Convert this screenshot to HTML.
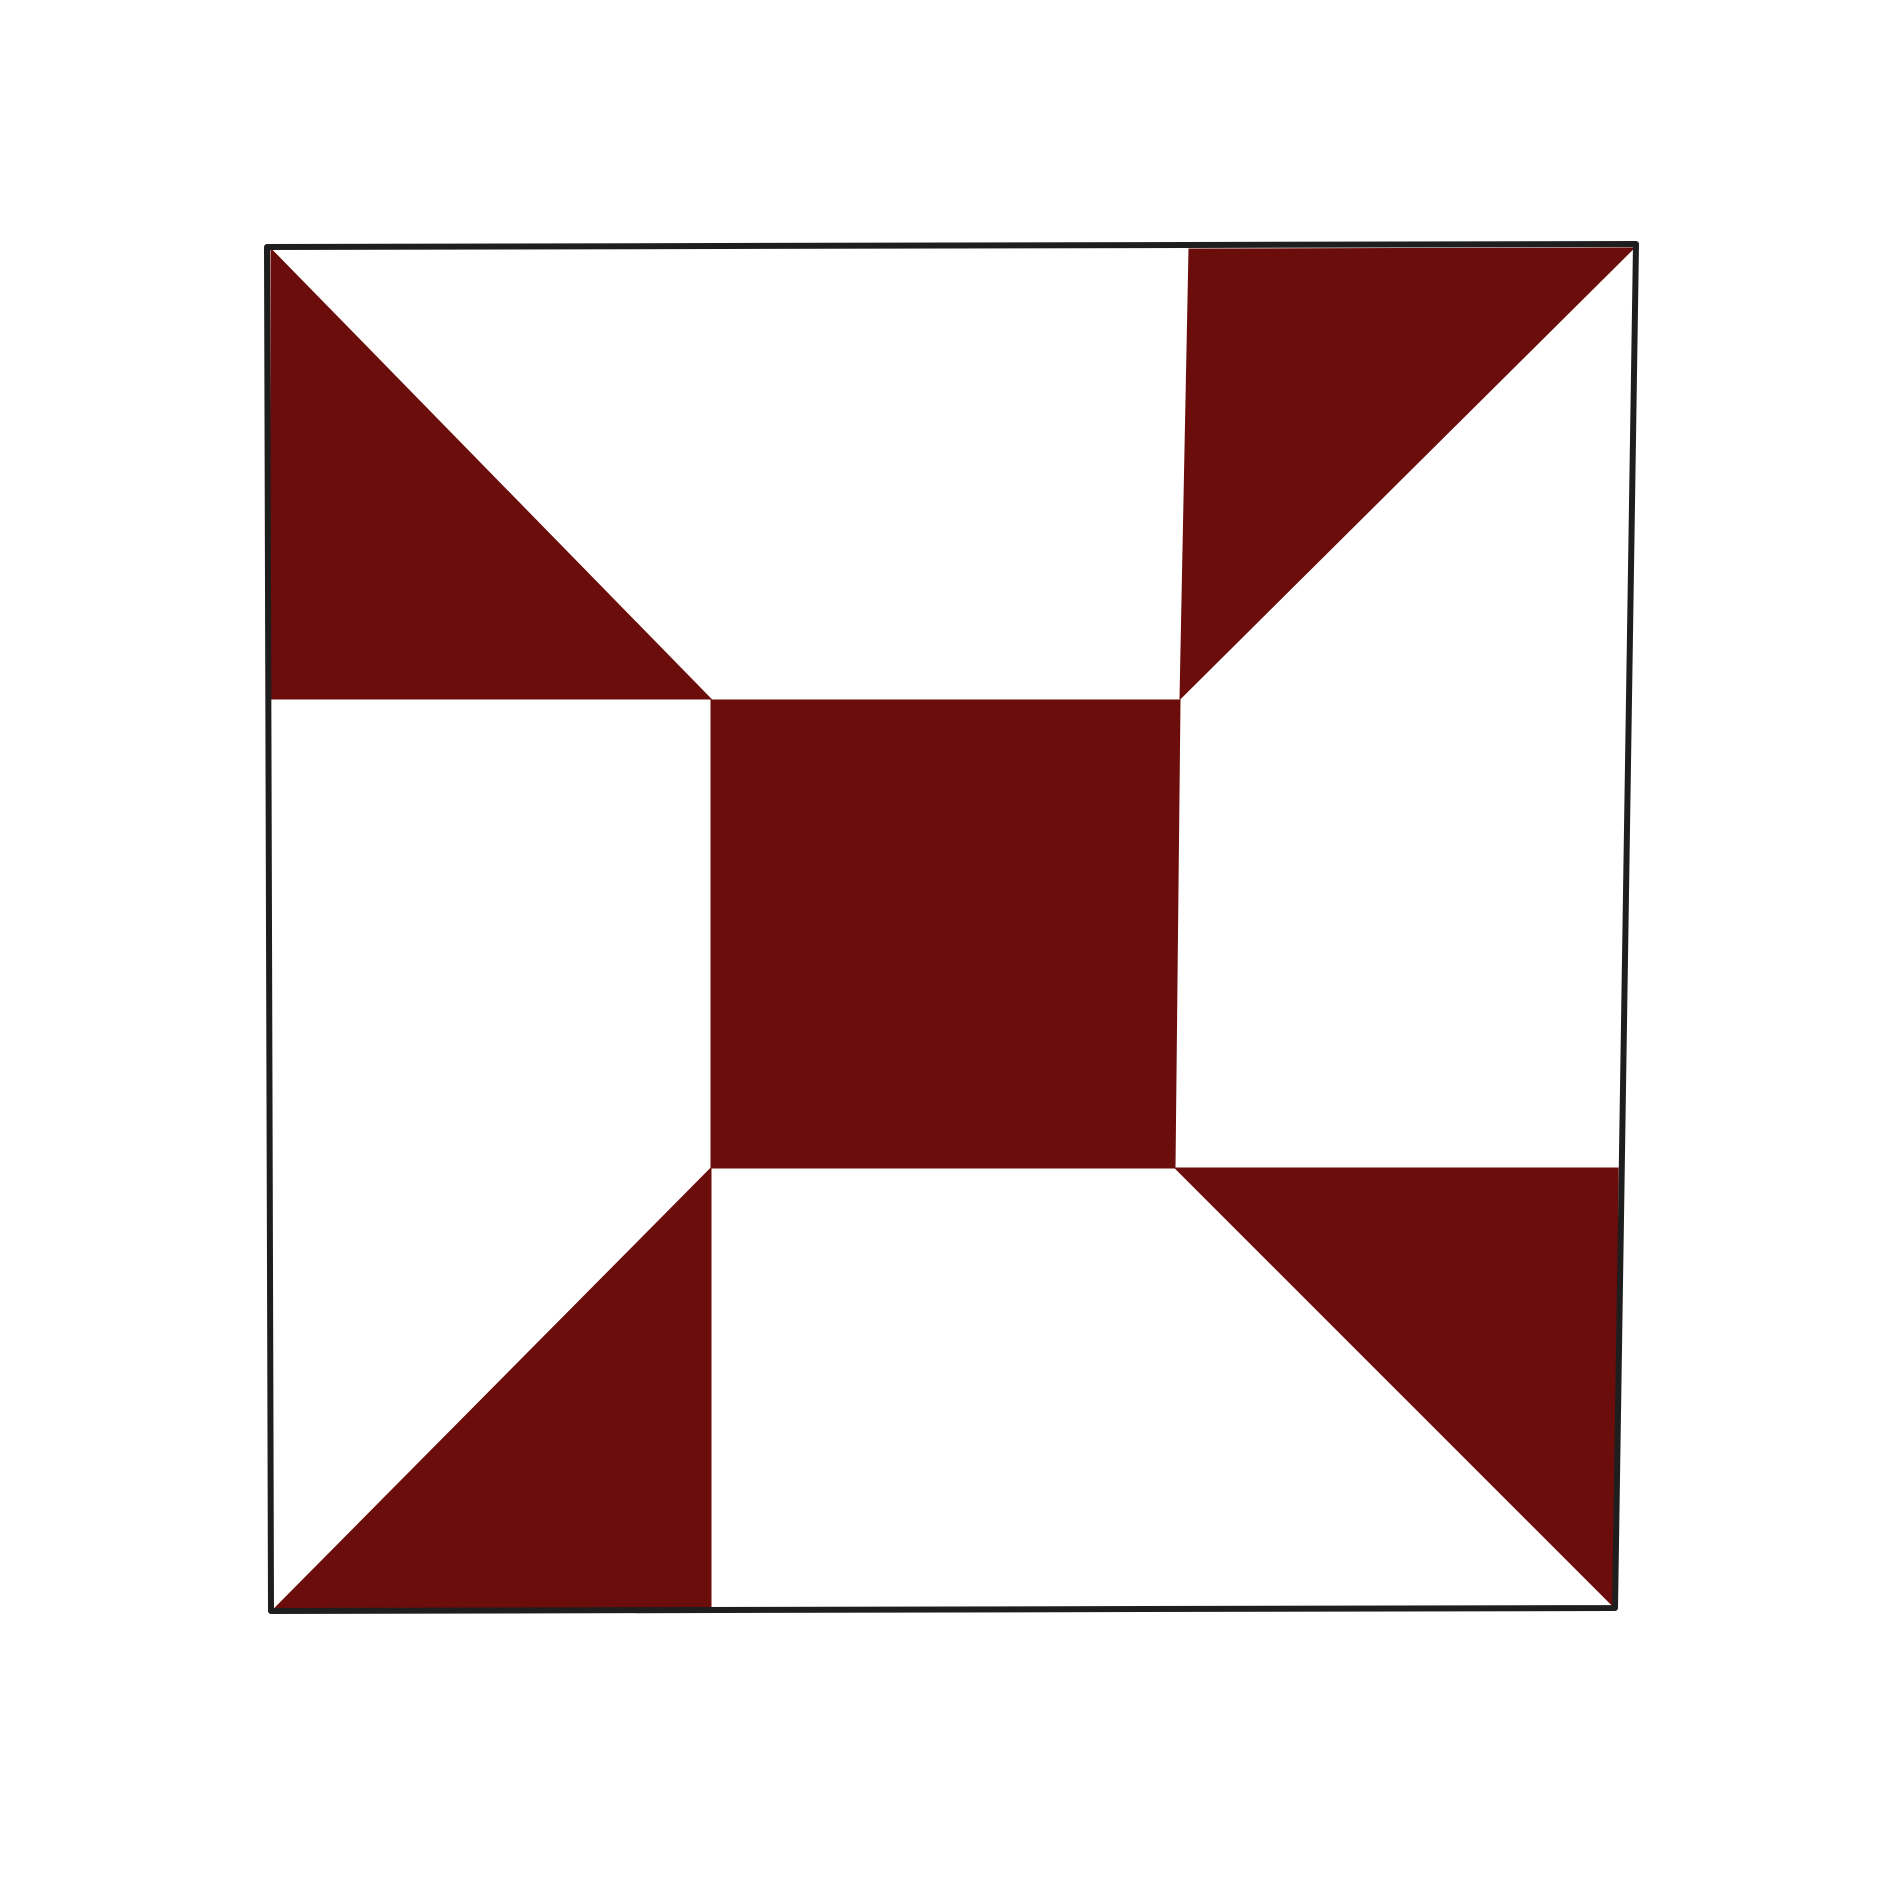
<!DOCTYPE html>
<html>
<head>
<meta charset="utf-8">
<style>
html,body{margin:0;padding:0;background:#fff;}
svg{display:block;}
</style>
</head>
<body>
<svg width="1896" height="1888" viewBox="0 0 1896 1888">
  <rect x="0" y="0" width="1896" height="1888" fill="#fff"/>
  <g fill="#6b0d0b" stroke="#6b0d0b" stroke-width="1">
    <polygon points="271,249 711,699 271,699"/>
    <polygon points="1189,249 1634,248 1180,699"/>
    <polygon points="711,700 1180,700 1175,1168 711,1168"/>
    <polygon points="1175,1168 1618,1168 1615,1608"/>
    <polygon points="711,1168 711,1608 274,1609"/>
  </g>
  <polygon points="267,247 1636,244 1615,1608 271,1611" fill="none" stroke="#1e1e1e" stroke-width="6" stroke-linejoin="round"/>
</svg>
</body>
</html>
